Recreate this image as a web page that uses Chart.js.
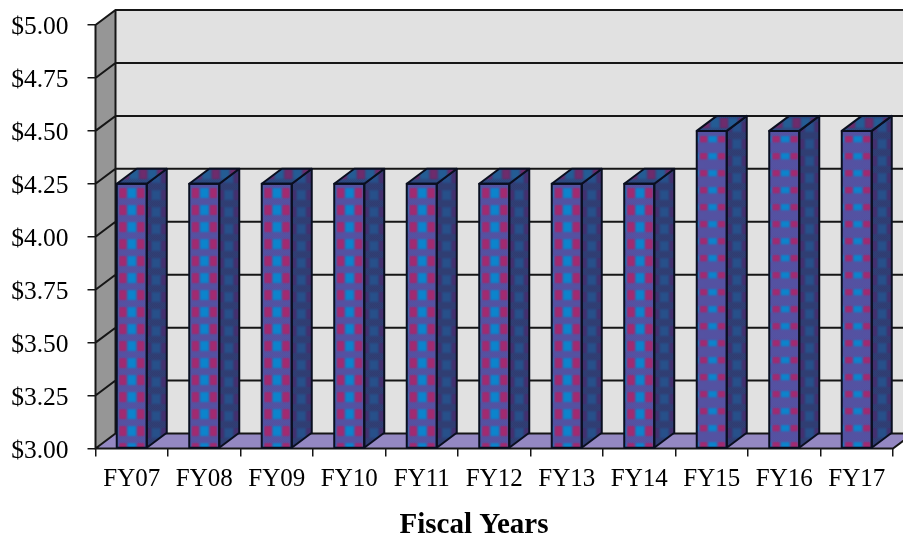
<!DOCTYPE html>
<html>
<head>
<meta charset="utf-8">
<style>
  html, body { margin: 0; padding: 0; background: #fff; }
  #wrap { width: 903px; height: 537px; }
</style>
<script src="https://cdn.jsdelivr.net/npm/chart.js@4"></script>
</head>
<body>
<div id="wrap"><canvas id="chart"></canvas></div>
<script>
const categories = ['FY07', 'FY08', 'FY09', 'FY10', 'FY11', 'FY12', 'FY13', 'FY14', 'FY15', 'FY16', 'FY17'];
const fees = [4.25, 4.25, 4.25, 4.25, 4.25, 4.25, 4.25, 4.25, 4.5, 4.5, 4.5];
const axisMin = 3;
const axisMax = 5;
const axisStep = 0.25;
const xTitle = 'Fiscal Years';

const DX = 20, DY = 15;   // depth of the fake 3d box
const FONT = '"Liberation Serif", "Times New Roman", serif';
const LINE = '#161616';

// woven fill: blue and magenta blobs over a fine check, blurred a little
function makeWeave(base, check, blue, red, h) {
  const c = document.createElement('canvas');
  c.width = 18; c.height = 18;
  const g = c.getContext('2d');
  g.fillStyle = base;
  g.fillRect(0, 0, 18, 18);
  g.filter = 'blur(0.8px)';
  g.fillStyle = blue;
  g.fillRect(3.5, 3, 11, h);
  g.fillStyle = red;
  g.fillRect(-4, 3, 8, h);
  g.fillRect(14, 3, 8, h);
  g.filter = 'none';
  g.fillStyle = check;
  for (let y = 0; y < 18; y++) {
    for (let x = y % 2; x < 18; x += 2) {
      if (y < 3 || y >= 3 + h) g.fillRect(x, y, 1, 1);
    }
  }
  return c;
}

function makePattern(ctx, tile, tx, ty) {
  const p = ctx.createPattern(tile, 'repeat');
  p.setTransform(new DOMMatrix([72.6 / 4 / 18, 0, 0, 17 / 18, tx, ty]));
  return p;
}

const ctx0 = document.getElementById('chart').getContext('2d');
const frontTall = makePattern(ctx0, makeWeave('#5a4c9e', '#4f58a6', '#0c84cc', '#a22a70', 11), 122.7, 185);
const frontFlat = makePattern(ctx0, makeWeave('#5a4c9e', '#4f58a6', '#0c84cc', '#a22a70', 7), 122.7, 133);
const sidePattern = makePattern(ctx0, makeWeave('#34386f', '#2e4478', '#27508a', '#45306f', 11), 147, 170);
const topPattern = makePattern(ctx0, makeWeave('#303f78', '#2a5288', '#245c94', '#6e2c6c', 11), 125, 166);

const walls = {
  id: 'walls',
  // walls and floor behind the bars
  beforeDatasetsDraw(chart) {
    const { ctx, chartArea: a, scales: { y } } = chart;
    const r = chart.width + 5;
    ctx.save();
    ctx.fillStyle = '#e1e1e1';
    ctx.fillRect(a.left + DX, a.top - DY, r - a.left, a.bottom - a.top);
    ctx.fillStyle = '#969696';
    ctx.beginPath();
    ctx.moveTo(a.left, a.top);
    ctx.lineTo(a.left + DX, a.top - DY);
    ctx.lineTo(a.left + DX, a.bottom - DY);
    ctx.lineTo(a.left, a.bottom);
    ctx.closePath();
    ctx.fill();
    ctx.fillStyle = '#9488c2';
    ctx.beginPath();
    ctx.moveTo(a.left, a.bottom);
    ctx.lineTo(a.left + DX, a.bottom - DY);
    ctx.lineTo(a.right + DX, a.bottom - DY);
    ctx.lineTo(a.right, a.bottom);
    ctx.closePath();
    ctx.fill();
    ctx.strokeStyle = LINE;
    ctx.lineWidth = 2;
    ctx.beginPath();
    y.ticks.forEach(t => {
      const py = y.getPixelForValue(t.value);
      ctx.moveTo(a.left, py);
      ctx.lineTo(a.left + DX, py - DY);
      ctx.lineTo(r, py - DY);
    });
    ctx.moveTo(a.left + DX, a.top - DY);
    ctx.lineTo(a.left + DX, a.bottom - DY);
    ctx.moveTo(a.left, a.top);
    ctx.lineTo(a.left, a.bottom);
    ctx.lineTo(a.right, a.bottom);
    ctx.lineTo(a.right + DX, a.bottom - DY);
    ctx.stroke();
    ctx.restore();
  },
  // side and top faces of each bar
  afterDatasetsDraw(chart) {
    const { ctx } = chart;
    ctx.save();
    ctx.strokeStyle = '#0a0f20';
    ctx.lineWidth = 2;
    ctx.lineJoin = 'round';
    chart.getDatasetMeta(0).data.forEach(bar => {
      const l = bar.x - bar.width / 2, r = bar.x + bar.width / 2;
      const t = bar.y, b = bar.base;
      ctx.fillStyle = sidePattern;
      ctx.beginPath();
      ctx.moveTo(r, t);
      ctx.lineTo(r + DX, t - DY);
      ctx.lineTo(r + DX, b - DY);
      ctx.lineTo(r, b);
      ctx.closePath();
      ctx.fill();
      ctx.stroke();
      ctx.fillStyle = topPattern;
      ctx.beginPath();
      ctx.moveTo(l, t);
      ctx.lineTo(l + DX, t - DY);
      ctx.lineTo(r + DX, t - DY);
      ctx.lineTo(r, t);
      ctx.closePath();
      ctx.fill();
      ctx.stroke();
      ctx.strokeRect(l, t, r - l, b - t);
    });
    ctx.restore();
  },
  // axis title sits left of the scale centre in the original
  afterDraw(chart) {
    const { ctx } = chart;
    ctx.save();
    ctx.font = 'bold 29px ' + FONT;
    ctx.fillStyle = '#000';
    ctx.textAlign = 'center';
    ctx.textBaseline = 'middle';
    ctx.fillText(xTitle, 474, 526);
    ctx.restore();
  }
};

new Chart(ctx0, {
  type: 'bar',
  data: {
    labels: categories,
    datasets: [{
      data: fees,
      base: axisMin,
      backgroundColor: fees.map(v => v > 4.25 ? frontFlat : frontTall),
      barThickness: 30,
      borderWidth: 0,
    }],
  },
  plugins: [walls],
  options: {
    responsive: true,
    maintainAspectRatio: false,
    animation: false,
    layout: { padding: { left: 0, right: 10, top: 25, bottom: 0 } },
    plugins: { legend: { display: false }, tooltip: { enabled: false } },
    scales: {
      x: {
        grid: { drawOnChartArea: false, tickLength: 8, color: LINE, lineWidth: 1.5 },
        border: { display: false },
        afterFit(s) { s.height = 88.5; s.paddingLeft = 0; s.paddingRight = 0; },
        ticks: { color: '#000', font: { family: FONT, size: 25 }, maxRotation: 0, autoSkip: false, padding: 8 },
      },
      y: {
        min: axisMin,
        max: axisMax,
        afterFit(s) { s.width = 95.5; s.paddingTop = 0; s.paddingBottom = 0; },
        grid: { drawOnChartArea: false, tickLength: 8, color: LINE, lineWidth: 1.5 },
        border: { display: false },
        ticks: { stepSize: axisStep, color: '#000', font: { family: FONT, size: 25.5 }, padding: 19, labelOffset: 2.5, callback: v => '$' + v.toFixed(2) },
      },
    },
  },
});
</script>
</body>
</html>
